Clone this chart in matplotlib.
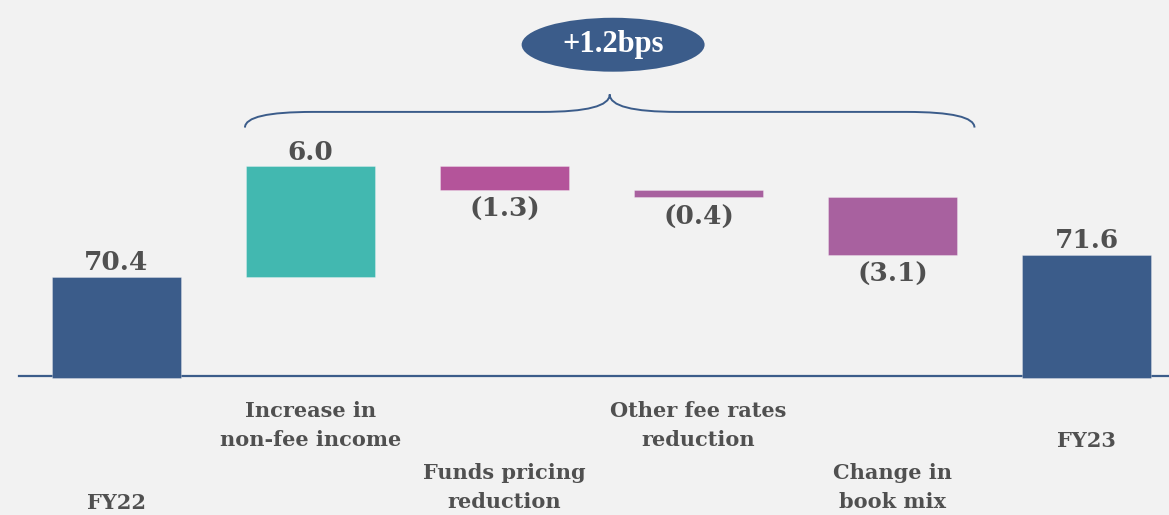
import numpy as np
import matplotlib
matplotlib.use("Agg")
import matplotlib.pyplot as plt
from matplotlib.patches import Ellipse, PathPatch
from matplotlib.path import Path

# data
categories = ["FY22", "Increase in\nnon-fee income", "Funds pricing\nreduction",
              "Other fee rates\nreduction", "Change in\nbook mix", "FY23"]
values = [70.4, 6.0, -1.3, -0.4, -3.1, 71.6]
labels = ["70.4", "6.0", "(1.3)", "(0.4)", "(3.1)", "71.6"]
kinds = ["total", "delta", "delta", "delta", "delta", "total"]
colors = ["#3B5C8A", "#42B8B0", "#B4549A", "#A8619F", "#A8619F", "#3B5C8A"]
label_row = [3, 0, 2, 0, 2, 1]   # first text line of each category label
summary = "+1.2bps"

BASE = 65.0
TEXT = "#505050"
BG = "#F2F2F2"
FONT = ["DejaVu Serif"]

fig = plt.figure(figsize=(11.69, 5.15), dpi=100, facecolor=BG)
ax = fig.add_axes([0, 0, 1, 1], facecolor=BG)
ax.set_xlim(-0.6, 5.425)
ax.set_ylim(57.45, 85.43)
ax.axis("off")

width = 0.665
x = np.arange(len(values))
running = 0.0
tops = []
for i, (v, k) in enumerate(zip(values, kinds)):
    if k == "total":
        bottom, height = BASE - 0.1, v - BASE + 0.1
        running = v
    else:
        bottom = running if v > 0 else running + v
        height = abs(v)
        running += v
    ax.bar(x[i], height, bottom=bottom, width=width, color=colors[i],
           edgecolor="#ffffff55", linewidth=0.6, zorder=3)
    top = bottom + height
    tops.append(top)
    if v >= 0:
        ax.annotate(labels[i], (x[i], top), xytext=(0, 1), textcoords="offset points",
                    ha="center", va="bottom", fontsize=19, fontweight="bold",
                    color=TEXT, family=FONT)
    else:
        ax.annotate(labels[i], (x[i], bottom), xytext=(0, -5), textcoords="offset points",
                    ha="center", va="top", fontsize=19, fontweight="bold",
                    color=TEXT, family=FONT)

# baseline
ax.plot([-0.5, 5.5], [BASE, BASE], color="#3B5C8A", lw=1.6, zorder=2)

# category labels, staggered in rows of ~31 px
for i, cat in enumerate(categories):
    nlines = cat.count("\n") + 1
    yc = 410 + (label_row[i] + (nlines - 1) / 2) * 31
    ax.text(x[i], 1 - yc / 515, cat, transform=ax.get_xaxis_transform(),
            ha="center", va="center", fontsize=15, fontweight="bold",
            color=TEXT, family=FONT, linespacing=1.62)

# brace above the deltas
x0 = x[1] - width / 2 - 0.005
x1 = x[4] + width / 2 + 0.09
xc = (x0 + x1) / 2
yb = max(tops) + 2.1
yh = yb + 0.85
yt = yh + 0.95
r = 0.35
verts = [(x0, yb), (x0, yh), (x0 + r, yh),
         (xc - r, yh), (xc, yh), (xc, yt),
         (xc, yh), (xc + r, yh),
         (x1 - r, yh), (x1, yh), (x1, yb)]
codes = [Path.MOVETO, Path.CURVE3, Path.CURVE3,
         Path.LINETO, Path.CURVE3, Path.CURVE3,
         Path.CURVE3, Path.CURVE3,
         Path.LINETO, Path.CURVE3, Path.CURVE3]
ax.add_patch(PathPatch(Path(verts, codes), fill=False, edgecolor="#3B5C8A", lw=1.4))

# summary bubble
ell = Ellipse((2.56, 83.0), 0.943, 2.93, facecolor="#3B5C8A", edgecolor="none", zorder=4)
ax.add_patch(ell)
ax.text(2.56, 83.0, summary, ha="center", va="center", fontsize=22, fontweight="bold",
        color="white", family=["Liberation Serif"], zorder=5)

fig.savefig("out.png", dpi=100, facecolor=BG)
